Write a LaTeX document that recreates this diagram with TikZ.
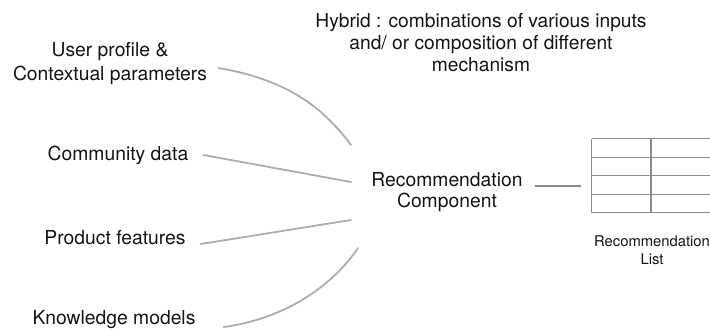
\documentclass[tikz,border=0pt]{standalone}
\usepackage{fontspec}
\setmainfont{TeX Gyre Heros}

\begin{document}
\begin{tikzpicture}[
  x=1pt, y=-1pt,
  lbl/.style={inner sep=0pt, align=center, text=ctext, font=\fontsize{19.3}{24}\selectfont},
  title/.style={inner sep=0pt, align=center, text=ctext, font=\fontsize{19.2}{22}\selectfont},
  listcap/.style={inner sep=0pt, align=center, text=ctext, font=\fontsize{14.8}{18}\selectfont},
  feed/.style={draw=cline, line width=1.8pt, line cap=round},
  link/.style={draw=clink, line width=2.6pt},
  tabline/.style={draw=ctab, line width=1.3pt}
]

\definecolor{ctext}{RGB}{20,20,20}
\definecolor{cline}{RGB}{172,172,172}
\definecolor{clink}{RGB}{138,138,138}
\definecolor{ctab}{RGB}{140,140,140}

\useasboundingbox (0,0) rectangle (710,330);

\node[title] (hyb) at (481,43) {Hybrid : combinations of various inputs\\and/ or composition of different\\mechanism};

% inputs on the left
\node[lbl] (up) at (110,64) {User profile \&\\Contextual parameters};
\node[lbl] (cd) at (118,155) {Community data};
\node[lbl] (pf) at (115,238) {Product features};
\node[lbl] (km) at (114,320) {Knowledge models};

\node[lbl, font=\fontsize{19.3}{21}\selectfont] (comp) at (447,192) {Recommendation\\Component};

\coordinate (in1) at (351,145);
\coordinate (in2) at (351,182);
\coordinate (in3) at (351,220);
\coordinate (in4) at (358,248);

\draw[feed] ([xshift=11pt,yshift=-4pt]up.east) .. controls (290,80) and (325,110) .. (in1);
\draw[feed] ([xshift=15pt]cd.east) -- (in2);
\draw[feed] ([xshift=15pt,yshift=-6pt]pf.east) -- (in3);
\draw[feed] ([xshift=28pt,yshift=-7pt]km.east) .. controls (290,318) and (335,282) .. (in4);

% output list
\node[minimum width=118pt, minimum height=74pt, inner sep=0pt] (list) at (651,176) {};
\foreach \r in {0,1,2,3,4}
  \draw[tabline] ([yshift=-18.5*\r pt]list.north west) -- ([yshift=-18.5*\r pt]list.north east);
\draw[tabline] (list.north west) -- (list.south west);
\draw[tabline, line width=2.2pt] (list.north) -- (list.south);
\node[listcap] (lcap) at (652,250) {Recommendation\\List};

\coordinate (out) at (535,186);
\draw[link, shorten >=11pt] (out) -- (out -| list.west);

\end{tikzpicture}
\end{document}
